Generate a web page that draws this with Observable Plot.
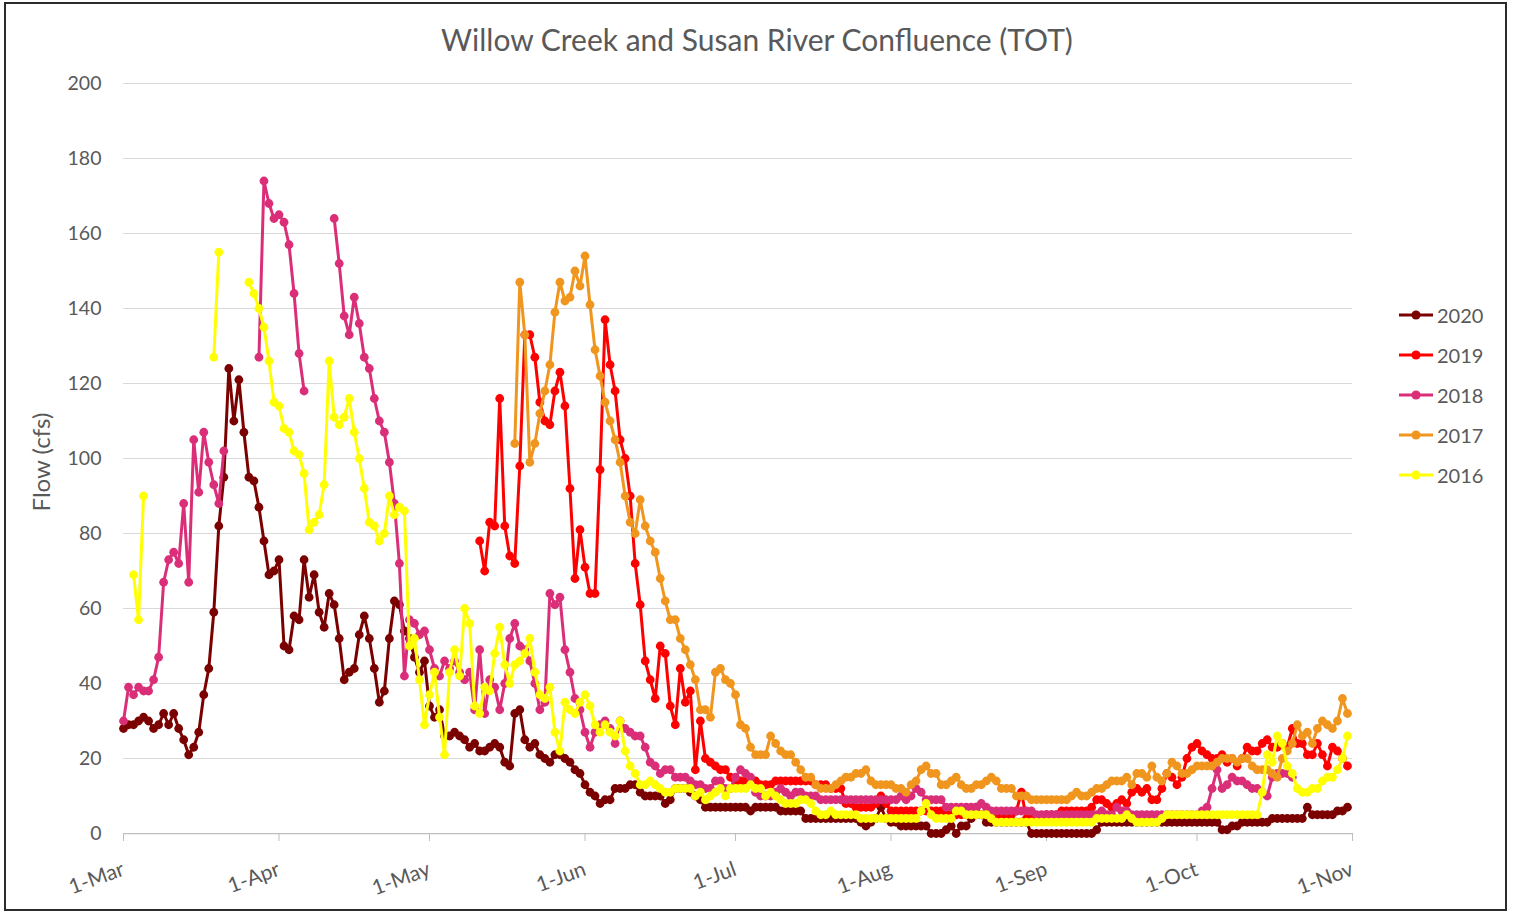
<!DOCTYPE html>
<html><head><meta charset="utf-8">
<script src="https://cdn.jsdelivr.net/npm/d3@7"></script>
<script src="https://cdn.jsdelivr.net/npm/@observablehq/plot@0.6"></script>
<style>
body{margin:0;background:#fff;font-family:Lato,"Liberation Sans",sans-serif;width:1514px;height:913px;overflow:hidden;position:relative;}
#chart{position:absolute;left:0;top:0;}
#frame{position:absolute;left:4px;top:2px;width:1503px;height:909px;border:2px solid #2b2b2b;box-sizing:border-box;pointer-events:none;}
#title{position:absolute;left:0;width:1514px;top:21px;text-align:center;font-size:30px;color:#595959;}
#ytitle{position:absolute;left:40px;top:462px;transform:translate(-50%,-50%) rotate(-90deg);font-size:24px;color:#595959;white-space:nowrap;}
#legend{position:absolute;left:1398px;top:295px;}
.item{height:40px;display:flex;align-items:center;font-size:20px;color:#595959;}
.item svg{margin-right:3px;}
</style></head><body>
<div id="chart"></div>
<div id="title">Willow Creek and Susan River Confluence (TOT)</div>
<div id="ytitle">Flow (cfs)</div>
<div id="legend"></div>
<div id="frame"></div>
<script>
const N = null;
const xTickDays = [0, 31, 61, 92, 122, 153, 184, 214, 245];
const xTickLabels = ["1-Mar","1-Apr","1-May","1-Jun","1-Jul","1-Aug","1-Sep","1-Oct","1-Nov"];
const yTicks = [0,20,40,60,80,100,120,140,160,180,200];
const years = ["2020","2019","2018","2017","2016"];
const colors = ["#7b0000","#ff0000","#da2f78","#f0961e","#ffff00"];
const starts = [0, 71, 0, 78, 2];

const flow2020 = [28,29,29,30,31,30,28,29,32,29,
32,28,25,21,23,27,37,44,59,82,
95,124,110,121,107,95,94,87,78,69,
70,73,50,49,58,57,73,63,69,59,
55,64,61,52,41,43,44,53,58,52,
44,35,38,52,62,61,54,52,47,43,
46,34,31,33,26,26,27,26,25,23,
24,22,22,23,24,23,19,18,32,33,
25,23,24,21,20,19,21,21,20,19,
17,16,13,11,10,8,9,9,12,12,
12,13,13,11,10,10,10,10,8,9,
12,12,12,11,10,9,7,7,7,7,
7,7,7,7,7,6,7,7,7,7,
7,6,6,6,6,6,4,4,4,4,
4,4,4,4,4,4,4,3,2,3,
4,7,4,3,3,2,2,2,2,2,
2,0,0,0,1,2,0,2,2,4,
7,5,3,3,3,3,3,3,3,3,
3,0,0,0,0,0,0,0,0,0,
0,0,0,0,1,3,3,3,3,3,
3,3,3,3,3,3,3,3,3,3,
3,3,3,3,3,3,3,3,3,1,
1,2,2,3,3,3,3,3,3,4,
4,4,4,4,4,4,7,5,5,5,
5,5,6,6,7];

const flow2019 = [78,70,83,82,116,82,74,72,98,
133,133,127,115,110,109,118,123,114,92,
68,81,71,64,64,97,137,125,118,105,
100,90,72,61,46,41,36,50,48,34,
29,44,35,38,17,30,20,19,18,17,
17,15,14,14,14,14,14,13,13,13,
14,14,14,14,14,14,14,14,13,13,
13,12,12,12,8,8,7,7,7,7,
8,10,8,6,6,6,6,6,6,6,
6,6,6,6,5,5,5,5,5,5,
5,5,5,5,5,5,5,5,6,11,
4,4,4,4,5,5,5,6,6,6,
6,6,6,7,9,9,8,7,8,9,
8,11,12,11,12,9,9,12,16,15,
13,15,20,23,24,22,21,20,20,21,
19,20,18,20,23,22,22,24,25,23,
23,24,23,28,24,24,21,21,24,21,
18,23,22,20,18];

const flow2018 = [30,39,37,39,38,38,41,47,67,73,
75,72,88,67,105,91,107,99,93,88,
102,N,N,N,N,N,N,127,174,168,
164,165,163,157,144,128,118,N,N,N,
N,N,164,152,138,133,143,136,127,124,
116,110,107,99,88,72,42,57,56,53,
54,49,44,42,46,44,46,43,41,43,
33,49,32,41,39,33,40,52,56,50,
49,46,40,33,35,64,61,63,49,43,
36,33,27,23,27,29,30,28,24,30,
28,27,26,26,23,19,18,16,17,17,
15,15,15,14,13,13,12,12,14,14,
12,12,15,17,16,15,11,10,10,10,
11,12,11,10,11,11,10,10,10,9,
9,9,9,9,9,9,9,9,9,9,
9,9,9,9,9,10,9,10,12,11,
9,9,9,9,7,7,7,7,7,7,
7,8,7,6,6,6,6,6,6,6,
6,6,5,5,5,5,5,5,5,5,
5,5,5,5,5,6,5,5,7,6,
6,5,5,5,5,5,5,5,5,5,
5,5,5,5,5,6,7,12,17,12,
13,15,14,14,13,12,12,11,10,15,
16,16,16,15];

const flow2017 = [104,147,
133,99,104,112,118,125,139,147,142,143,
150,146,154,141,129,122,115,110,105,99,
90,83,80,89,82,78,75,68,62,57,
57,52,49,45,41,33,33,31,43,44,
41,40,37,29,28,23,21,21,21,26,
24,22,21,21,19,17,15,15,13,12,
12,12,13,14,15,15,16,16,17,14,
13,13,13,13,12,12,11,13,14,17,
18,16,16,13,13,14,15,13,12,12,
13,13,14,15,14,12,12,12,10,10,
10,9,9,9,9,9,9,9,9,10,
11,10,10,11,12,12,13,14,14,14,
15,13,16,16,15,18,15,14,16,19,
18,16,16,17,18,18,18,18,19,20,
20,20,19,20,20,18,17,17,17,16,
15,20,22,24,29,26,27,24,28,30,
29,28,30,36,32];

const flow2016 = [69,57,90,
N,N,N,N,N,N,N,N,N,N,N,N,N,
127,155,
N,N,N,N,N,
147,144,140,135,126,
115,114,108,107,102,101,96,81,83,85,
93,126,111,109,111,116,107,100,92,83,
82,78,80,90,85,87,86,50,52,41,
29,37,43,31,21,43,49,42,60,56,
34,32,39,38,48,55,45,40,45,46,
48,52,43,37,36,39,27,22,35,33,
32,35,37,34,29,27,29,27,26,30,
22,18,16,13,13,14,13,12,11,11,
12,12,12,12,10,11,9,10,11,12,
10,12,12,12,12,13,12,12,10,11,
10,9,8,8,8,9,9,8,6,5,
5,6,5,5,5,5,5,4,4,4,
4,4,4,4,4,4,4,4,4,6,
8,5,4,4,4,4,6,6,5,5,
5,5,5,4,3,3,3,3,3,3,
3,3,3,3,3,3,3,3,3,3,
3,3,3,3,4,4,4,4,4,4,
5,4,3,3,3,3,3,4,5,5,
5,5,5,5,5,5,5,5,5,5,
5,5,5,5,5,5,5,11,21,19,
26,24,18,16,12,11,11,12,12,14,
15,15,17,20,26];

const flows = [flow2020, flow2019, flow2018, flow2017, flow2016];

const seriesMarks = [];
flows.forEach((vals, k) => {
  const s = starts[k];
  seriesMarks.push(Plot.line(vals, {x: (d, i) => s + i, y: d => d, stroke: colors[k], strokeWidth: 3, curve: "linear"}));
  seriesMarks.push(Plot.dot(vals, {x: (d, i) => s + i, y: d => d, fill: colors[k], r: 4.4, stroke: "none"}));
});

const chart = Plot.plot({
  width: 1514, height: 913,
  marginLeft: 123, marginRight: 162, marginTop: 83, marginBottom: 80,
  style: {background: "transparent", fontFamily: "Lato, 'Liberation Sans', sans-serif"},
  x: {domain: [0, 245], axis: null},
  y: {domain: [0, 200], axis: null},
  marks: [
    Plot.ruleY(yTicks.filter(t => t > 0), {stroke: "#d9d9d9", strokeWidth: 1}),
    Plot.ruleY([0], {stroke: "#bfbfbf", strokeWidth: 1.25}),
    Plot.axisX(xTickDays, {anchor: "bottom", tickSize: 8, stroke: "#bfbfbf", fill: "#595959", fontSize: 21, tickRotate: -20, tickPadding: 27,
      tickFormat: d => xTickLabels[xTickDays.indexOf(d)], label: null}),
    Plot.axisY(yTicks, {anchor: "left", tickSize: 0, tickPadding: 22, fill: "#595959", fontSize: 19.5, label: null}),
    ...seriesMarks
  ]
});
document.getElementById("chart").appendChild(chart);

const legend = document.getElementById("legend");
years.forEach((y, k) => {
  const div = document.createElement("div");
  div.className = "item";
  div.innerHTML = `<svg width="36" height="12"><line x1="1" x2="35" y1="6" y2="6" stroke="${colors[k]}" stroke-width="3"/><circle cx="18" cy="6" r="4.6" fill="${colors[k]}"/></svg><span>${y}</span>`;
  legend.appendChild(div);
});
</script>
</body></html>
